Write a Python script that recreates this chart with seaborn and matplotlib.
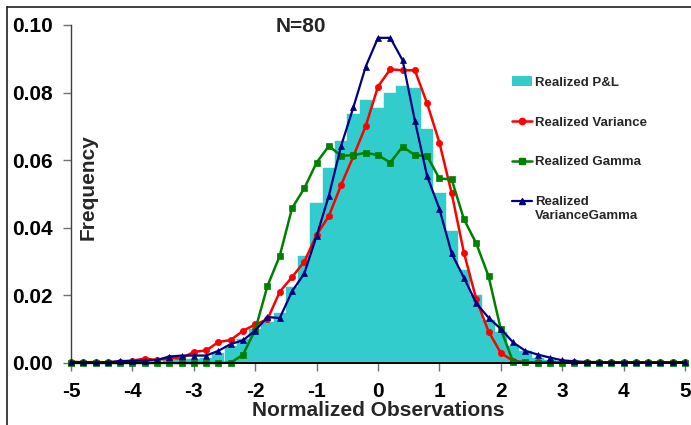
import numpy as np
import pandas as pd
import matplotlib
matplotlib.use("Agg")
import matplotlib.pyplot as plt
import seaborn as sns
from matplotlib.patches import Patch
from matplotlib.lines import Line2D
from matplotlib.legend_handler import HandlerLine2D

# ---------------- data ----------------
x_obs = [-5.0, -4.8, -4.6, -4.4, -4.2, -4.0, -3.8, -3.6, -3.4, -3.2,
         -3.0, -2.8, -2.6, -2.4, -2.2, -2.0, -1.8, -1.6, -1.4, -1.2,
         -1.0, -0.8, -0.6, -0.4, -0.2, 0.0, 0.2, 0.4, 0.6, 0.8,
         1.0, 1.2, 1.4, 1.6, 1.8, 2.0, 2.2, 2.4, 2.6, 2.8,
         3.0, 3.2, 3.4, 3.6, 3.8, 4.0, 4.2, 4.4, 4.6, 4.8, 5.0]

realized_pnl = [0.0, 0.0, 0.0, 0.0, 0.0, 0.0, 0.0, 0.0, 0.0010, 0.0012,
                0.0012, 0.0015, 0.0030, 0.0050, 0.0070, 0.0100, 0.0120, 0.0148, 0.0224, 0.0317,
                0.0473, 0.0576, 0.0657, 0.0737, 0.0778, 0.0755, 0.0799, 0.0820, 0.0815, 0.0692,
                0.0504, 0.0391, 0.0275, 0.0200, 0.0127, 0.0091, 0.0050, 0.0035, 0.0015, 0.0008,
                0.0004, 0.0002, 0.0, 0.0, 0.0, 0.0, 0.0, 0.0, 0.0, 0.0, 0.0]

realized_variance = [0.0004, 0.0002, 0.0003, 0.0002, 0.0004, 0.0007, 0.0013, 0.0009, 0.0014, 0.0014,
                     0.0033, 0.0037, 0.0062, 0.0068, 0.0095, 0.0114, 0.0129, 0.0211, 0.0254, 0.0300,
                     0.0379, 0.0435, 0.0527, 0.0612, 0.0701, 0.0818, 0.0869, 0.0866, 0.0866, 0.0768,
                     0.0652, 0.0502, 0.0326, 0.0189, 0.0093, 0.0030, 0.0006, 0.0002, 0.0002, 0.0002,
                     0.0002, 0.0002, 0.0002, 0.0002, 0.0002, 0.0002, 0.0002, 0.0002, 0.0002, 0.0002, 0.0002]

realized_gamma = [0.0, 0.0, 0.0, 0.0, 0.0, 0.0, 0.0, 0.0, 0.0, 0.0,
                  0.0, 0.0, 0.0, 0.0001, 0.0024, 0.0098, 0.0228, 0.0317, 0.0458, 0.0517,
                  0.0593, 0.0642, 0.0613, 0.0615, 0.0622, 0.0615, 0.0593, 0.0640, 0.0615, 0.0612,
                  0.0546, 0.0543, 0.0425, 0.0354, 0.0257, 0.0100, 0.0004, 0.0003, 0.0001, 0.0001,
                  0.0001, 0.0001, 0.0001, 0.0001, 0.0001, 0.0001, 0.0001, 0.0001, 0.0001, 0.0001, 0.0001]

realized_vargamma = [0.0003, 0.0002, 0.0002, 0.0002, 0.0006, 0.0006, 0.0007, 0.0009, 0.0019, 0.0022,
                     0.0022, 0.0022, 0.0036, 0.0056, 0.0067, 0.0096, 0.0136, 0.0133, 0.0212, 0.0265,
                     0.0376, 0.0495, 0.0643, 0.0757, 0.0877, 0.0962, 0.0962, 0.0896, 0.0717, 0.0553,
                     0.0456, 0.0324, 0.0252, 0.0177, 0.0134, 0.0101, 0.0061, 0.0036, 0.0025, 0.0016,
                     0.0008, 0.0005, 0.0003, 0.0003, 0.0002, 0.0002, 0.0002, 0.0002, 0.0002, 0.0002, 0.0002]

x_ticks = [-5, -4, -3, -2, -1, 0, 1, 2, 3, 4, 5]
y_ticks = [0.00, 0.02, 0.04, 0.06, 0.08, 0.10]
y_tick_labels = ["0.00", "0.02", "0.04", "0.06", "0.08", "0.10"]
series_labels = ["Realized P&L", "Realized Variance", "Realized Gamma", "Realized\nVarianceGamma"]

# ---------------- style ----------------
sns.set_style("ticks")
plt.rcParams["font.family"] = ["Liberation Sans", "DejaVu Sans"]
plt.rcParams["font.weight"] = "bold"

C_BAR = "#33CCCC"
C_RED = "#FF0000"
C_GREEN = "#008000"
C_NAVY = "#000080"

W, H = 691, 425
fig = plt.figure(figsize=(W / 100, H / 100), dpi=100)
ax = fig.add_axes([71 / W, 1 - 363 / H, 614 / W, 338 / H])

df = pd.DataFrame({
    "x": x_obs,
    "pnl": realized_pnl,
    "variance": realized_variance,
    "gamma": realized_gamma,
    "vargamma": realized_vargamma,
})

sns.histplot(data=df, x="x", weights="pnl", binwidth=0.2, binrange=(-5.1, 5.1),
             stat="count", color=C_BAR, alpha=1, edgecolor=C_BAR, linewidth=0.3,
             ax=ax, zorder=1)

sns.lineplot(data=df, x="x", y="variance", color=C_RED, marker="o", markersize=4.5,
             markeredgecolor=C_RED, markeredgewidth=0.5, linewidth=1.8, ax=ax,
             legend=False, clip_on=False, zorder=3)
sns.lineplot(data=df, x="x", y="gamma", color=C_GREEN, marker="s", markersize=4,
             markeredgecolor=C_GREEN, markeredgewidth=0.5, linewidth=1.8, ax=ax,
             legend=False, clip_on=False, zorder=3)
sns.lineplot(data=df, x="x", y="vargamma", color=C_NAVY, marker="^", markersize=4.5,
             markeredgecolor=C_NAVY, markeredgewidth=0.5, linewidth=1.6, ax=ax,
             legend=False, clip_on=False, zorder=4)

ax.set_xlim(-5, 5)
ax.set_ylim(0, 0.10)
ax.set_xticks(x_ticks)
ax.set_xticklabels([str(t) for t in x_ticks])
ax.set_yticks(y_ticks)
ax.set_yticklabels(y_tick_labels)

for s in ["top", "right"]:
    ax.spines[s].set_visible(False)
ax.spines["left"].set_color("#404040")
ax.spines["left"].set_linewidth(1.0)
ax.spines["bottom"].set_color("#000000")
ax.spines["bottom"].set_linewidth(1.4)
ax.spines["bottom"].set_zorder(5)

ax.tick_params(axis="both", direction="out", length=5.8, width=1, color="#707070",
               labelsize=15, labelcolor="black")
ax.tick_params(axis="x", pad=8)
ax.tick_params(axis="y", pad=7.5)
for lab in ax.get_xticklabels() + ax.get_yticklabels():
    lab.set_fontweight("bold")

ax.set_xlabel("Normalized Observations", fontsize=15, fontweight="bold")
ax.xaxis.set_label_coords(0.5, -0.112)
ax.set_ylabel("Frequency", fontsize=15, fontweight="bold")
ax.yaxis.set_label_coords(0.043, 0.52)

fig.text(301 / W, 1 - 32 / H, "N=80", ha="center", va="baseline",
         fontsize=15, fontweight="bold")


class HandlerLineUp(HandlerLine2D):
    """Line handle aligned with the first line of a two-line label."""
    def create_artists(self, legend, orig_handle, xdescent, ydescent,
                       width, height, fontsize, trans):
        return super().create_artists(legend, orig_handle, xdescent, ydescent - 11,
                                      width, height, fontsize, trans)


vg_handle = Line2D([0], [0], color=C_NAVY, marker="^", markersize=4.5, linewidth=1.6)
handles = [
    Patch(facecolor=C_BAR, edgecolor="none"),
    Line2D([0], [0], color=C_RED, marker="o", markersize=4.5, linewidth=1.8),
    Line2D([0], [0], color=C_GREEN, marker="s", markersize=4, linewidth=1.8),
    vg_handle,
]
fig.legend(handles, series_labels, loc="upper left",
           bbox_to_anchor=(512 / W, 1 - 76.5 / H), frameon=False,
           prop={"size": 9.5, "weight": "bold"}, handlelength=1.5,
           handletextpad=0.25, labelspacing=2.09, borderpad=0, borderaxespad=0,
           numpoints=1, handler_map={vg_handle: HandlerLineUp()})

# chart-area border (top and left edges)
fig.add_artist(Line2D([7 / W, 7 / W], [0, 1 - 7 / H], transform=fig.transFigure,
                      color="#202020", linewidth=1.2))
fig.add_artist(Line2D([7 / W, 1], [1 - 7 / H, 1 - 7 / H], transform=fig.transFigure,
                      color="#202020", linewidth=1.2))

fig.savefig("out.png", dpi=100)
